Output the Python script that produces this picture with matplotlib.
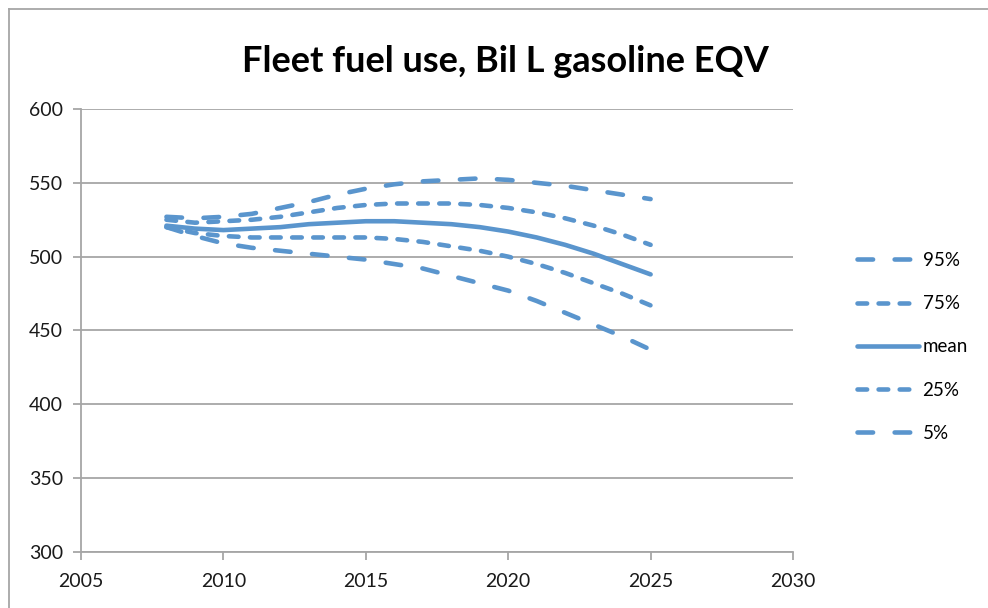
import matplotlib
matplotlib.use("Agg")
import matplotlib.pyplot as plt
from matplotlib.lines import Line2D

years = list(range(2008, 2026))
p95 = [527, 526, 527, 529, 533, 537, 542, 546, 549, 551, 552, 553, 552, 550, 548, 545, 542, 539]
p75 = [525, 523, 524, 525, 527, 530, 533, 535, 536, 536, 536, 535, 533, 530, 526, 521, 515, 508]
mean = [521, 519, 518, 519, 520, 522, 523, 524, 524, 523, 522, 520, 517, 513, 508, 502, 495, 488]
p25 = [520, 516, 514, 513, 513, 513, 513, 513, 512, 510, 507, 504, 500, 495, 489, 482, 475, 467]
p5 = [520, 514, 509, 506, 504, 502, 500, 498, 495, 492, 487, 482, 477, 470, 462, 454, 446, 437]
labels = ["95%", "75%", "mean", "25%", "5%"]
xticks = [2005, 2010, 2015, 2020, 2025, 2030]
yticks = [300, 350, 400, 450, 500, 550, 600]

plt.rcParams['font.family'] = ['Lato', 'DejaVu Sans']
W, H = 988, 608
fig = plt.figure(figsize=(W / 100, H / 100), dpi=100)
ax = fig.add_axes([81 / W, 1 - 552 / H, (793 - 81) / W, (552 - 109) / H])

color = '#5a95cd'
grid = '#a6a6a6'
lw = 3.3
long_d = (3.4, 4.7)
short_d = (2.1, 2.5)
series = [p95, p75, mean, p25, p5]
styles = [long_d, short_d, None, short_d, long_d]
for vals, st, lab in zip(series, styles, labels):
    if st is None:
        ax.plot(years, vals, color=color, lw=lw, solid_capstyle='round', label=lab)
    else:
        ax.plot(years, vals, color=color, lw=lw, dashes=st, dash_capstyle='round', label=lab)

ax.set_xlim(2005, 2030)
ax.set_ylim(300, 600)
ax.set_xticks(xticks)
ax.set_yticks(yticks)
ax.grid(axis='y', color=grid, lw=1.3)
ax.set_axisbelow(True)
for s in ['top', 'right']:
    ax.spines[s].set_visible(False)
for s in ['left', 'bottom']:
    ax.spines[s].set_color(grid)
    ax.spines[s].set_linewidth(1.3)
ax.tick_params(axis='both', colors=grid, width=1.3, length=6, labelcolor='#1a1a1a', labelsize=14)
ax.tick_params(axis='x', pad=9)
ax.tick_params(axis='y', pad=7)

fig.text(505 / W, 1 - 62 / H, "Fleet fuel use, Bil L gasoline EQV", ha='center', va='center',
         fontsize=26, fontweight='bold', color='black')

leg = ax.legend(loc='center left', bbox_to_anchor=(840 / W, 1 - 347 / H), bbox_transform=fig.transFigure,
                frameon=False, fontsize=13.5, handlelength=3.3, handletextpad=0.2, labelspacing=1.4)

# outer chart border
fig.add_artist(Line2D([9 / W, 9 / W], [1 - 9 / H, -0.1], transform=fig.transFigure, color='#a6a6a6', lw=1.3))
fig.add_artist(Line2D([9 / W, 1.1], [1 - 9 / H, 1 - 9 / H], transform=fig.transFigure, color='#a6a6a6', lw=1.3))

fig.savefig('out.png', dpi=100)
